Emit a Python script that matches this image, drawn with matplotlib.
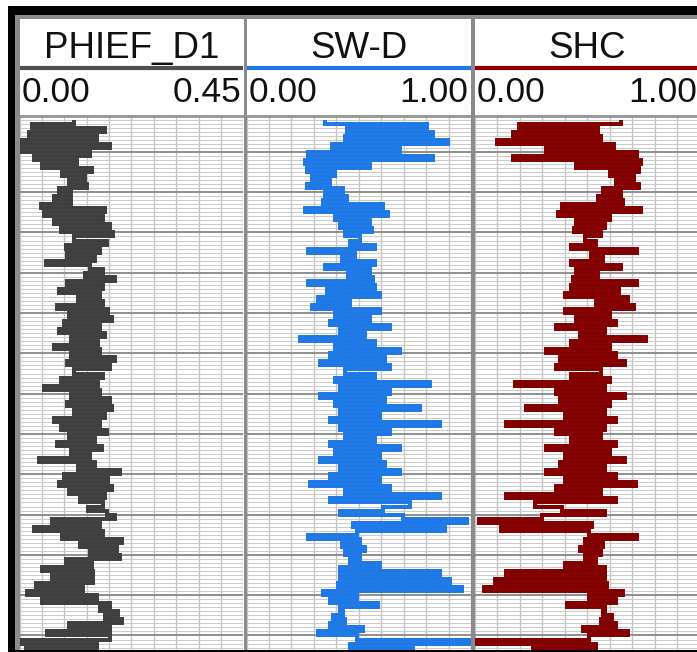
import numpy as np
import matplotlib
matplotlib.use("Agg")
import matplotlib.pyplot as plt
from matplotlib.patches import Rectangle

plt.rcParams["font.family"] = ["Liberation Sans", "DejaVu Sans"]

W, H, DPI = 697, 652, 100

# Depth samples (1 m step) and log values
depth = np.arange(1392, 1525)

phief = [
    0.110, 0.026, 0.171, 0.020, 0.155, 0.002, 0.181, 0.006, 0.141, 0.030,
    0.115, 0.046, 0.145, 0.086, 0.131, 0.100, 0.135, 0.080, 0.104, 0.070,
    0.104, 0.044, 0.171, 0.050, 0.167, 0.070, 0.181, 0.084, 0.187, 0.110,
    0.175, 0.094, 0.161, 0.096, 0.151, 0.054, 0.141, 0.167, 0.131, 0.191,
    0.096, 0.167, 0.080, 0.161, 0.117, 0.167,
    0.076, 0.177, 0.100, 0.185, 0.090, 0.161, 0.080, 0.171, 0.104, 0.157,
    0.070, 0.161, 0.104, 0.191, 0.096, 0.181, 0.110, 0.167, 0.084, 0.157,
    0.050, 0.161, 0.104, 0.181, 0.096, 0.185, 0.110, 0.171, 0.070, 0.161,
    0.084, 0.175, 0.100, 0.151, 0.076, 0.165, 0.104, 0.141, 0.040, 0.151,
    0.117, 0.201, 0.090, 0.177, 0.080, 0.185, 0.100, 0.171, 0.121, 0.167,
    0.137, 0.175, 0.191, 0.066, 0.161, 0.030, 0.167, 0.086, 0.205, 0.121,
    0.195, 0.141, 0.201, 0.094, 0.145, 0.046, 0.147, 0.066, 0.147, 0.034,
    0.127, 0.016, 0.155, 0.046, 0.181, 0.161, 0.197, 0.171, 0.205, 0.100,
    0.181, 0.056, 0.181, 0.002, 0.155, 0.014, 0.100,
]

sw_d = [
    0.351, 0.804, 0.449, 0.831, 0.440, 0.898, 0.382, 0.684, 0.276, 0.831,
    0.262, 0.551, 0.271, 0.396, 0.293, 0.373, 0.271, 0.431, 0.351, 0.449,
    0.342, 0.609, 0.262, 0.631, 0.396, 0.551, 0.418, 0.560, 0.440, 0.507,
    0.462, 0.573, 0.276, 0.484, 0.427, 0.573, 0.351, 0.551, 0.453, 0.564,
    0.276, 0.573, 0.360, 0.596, 0.320, 0.462,
    0.293, 0.596, 0.396, 0.551, 0.373, 0.640, 0.418, 0.529, 0.240, 0.573,
    0.396, 0.684, 0.373, 0.618, 0.329, 0.640, 0.440, 0.573, 0.396, 0.818,
    0.418, 0.640, 0.329, 0.618, 0.396, 0.773, 0.418, 0.596, 0.373, 0.862,
    0.418, 0.640, 0.440, 0.573, 0.373, 0.684, 0.396, 0.596, 0.329, 0.618,
    0.418, 0.684, 0.373, 0.596, 0.284, 0.640, 0.440, 0.862, 0.373, 0.729,
    0.609, 0.418, 0.698, 0.982, 0.476, 0.884, 0.493, 0.276, 0.507, 0.427,
    0.529, 0.440, 0.507, 0.462, 0.596, 0.418, 0.862, 0.418, 0.907, 0.409,
    0.960, 0.342, 0.493, 0.373, 0.587, 0.418, 0.431, 0.387, 0.440, 0.373,
    0.520, 0.320, 0.493, 1.000, 0.462, 0.742, 1.000,
]

shc = [
    0.649, 0.196, 0.551, 0.169, 0.560, 0.102, 0.618, 0.316, 0.724, 0.169,
    0.738, 0.449, 0.729, 0.604, 0.707, 0.627, 0.729, 0.569, 0.649, 0.551,
    0.658, 0.391, 0.738, 0.369, 0.604, 0.449, 0.582, 0.440, 0.560, 0.493,
    0.538, 0.427, 0.724, 0.516, 0.573, 0.427, 0.649, 0.449, 0.547, 0.436,
    0.724, 0.427, 0.640, 0.404, 0.680, 0.538,
    0.707, 0.404, 0.604, 0.449, 0.627, 0.360, 0.582, 0.471, 0.760, 0.427,
    0.604, 0.316, 0.627, 0.382, 0.671, 0.360, 0.560, 0.427, 0.604, 0.182,
    0.582, 0.360, 0.671, 0.382, 0.604, 0.227, 0.582, 0.404, 0.627, 0.138,
    0.582, 0.360, 0.560, 0.427, 0.627, 0.316, 0.604, 0.404, 0.671, 0.382,
    0.582, 0.316, 0.627, 0.404, 0.716, 0.360, 0.560, 0.138, 0.627, 0.271,
    0.391, 0.582, 0.302, 0.018, 0.524, 0.116, 0.507, 0.724, 0.493, 0.573,
    0.471, 0.560, 0.493, 0.538, 0.404, 0.582, 0.138, 0.582, 0.093, 0.591,
    0.040, 0.658, 0.507, 0.627, 0.413, 0.582, 0.569, 0.613, 0.560, 0.627,
    0.480, 0.680, 0.507, 0.000, 0.538, 0.258, 0.000,
]

track_names = ["PHIEF_D1", "SW-D", "SHC"]
track_left = ["0.00", "0.00", "0.00"]
track_right = ["0.45", "1.00", "1.00"]
track_max = [0.45, 1.0, 1.0]
curves = [phief, sw_d, shc]
curve_colors = ["#3f3f3f", "#1e78e6", "#820000"]
header_colors = ["#505050", "#1e78e6", "#8b0000"]

top_depth, base_depth = 1391.6, 1523.6

# Track extents in pixels
track_x = [(19.5, 243.5), (246.5, 471.0), (474.5, 699.5)]
HDR_TOP, HDR_BOT = 19, 116
PLOT_TOP, PLOT_BOT = 118, 650


def rect(x0, y0, x1, y1):
    return [x0 / W, 1 - y1 / H, (x1 - x0) / W, (y1 - y0) / H]


def fig_box(fig, x0, y0, x1, y1, color, z=5):
    fig.add_artist(Rectangle((x0 / W, 1 - y1 / H), (x1 - x0) / W, (y1 - y0) / H,
                             transform=fig.transFigure, facecolor=color,
                             edgecolor="none", zorder=z))


fig = plt.figure(figsize=(W / DPI, H / DPI), dpi=DPI, facecolor="white")

for k in range(3):
    x0, x1 = track_x[k]
    vmax = track_max[k]

    # header: title, coloured scale bar, scale limits
    hax = fig.add_axes(rect(x0, HDR_TOP, x1, HDR_BOT))
    hax.set_xlim(0, 1)
    hax.set_ylim(HDR_BOT, HDR_TOP)
    hax.axis("off")
    hax.text(0.5, 58, track_names[k], ha="center", va="baseline",
             fontsize=26.5, color="#111111")
    hax.axhline(68, color=header_colors[k], lw=3.0)
    pad = 2.5 / (x1 - x0)
    hax.text(pad, 102, track_left[k], ha="left", va="baseline",
             fontsize=25.5, color="#111111")
    hax.text(1 - pad, 102, track_right[k], ha="right", va="baseline",
             fontsize=25.5, color="#111111")

    # log track
    ax = fig.add_axes(rect(x0, PLOT_TOP, x1, PLOT_BOT))
    ax.set_xlim(0, vmax)
    ax.set_ylim(base_depth, top_depth)
    ax.set_xticks(np.linspace(0, vmax, 11))
    ax.set_yticks(np.arange(1400, 1524, 10))
    ax.set_yticks(np.arange(1392, 1524, 1), minor=True)
    ax.grid(which="minor", axis="y", color="#cbcbcb", lw=0.75)
    ax.grid(which="major", axis="y", color="#8e8e8e", lw=1.4)
    ax.grid(which="major", axis="x", color="#c2c2c2", lw=1.0)
    ax.tick_params(which="both", length=0, labelbottom=False, labelleft=False)
    for s in ax.spines.values():
        s.set_visible(False)
    ax.set_axisbelow(True)
    # step-style log curve: each reading held over its depth interval
    ax.plot(curves[k], depth, color=curve_colors[k], lw=2.85,
            drawstyle="steps-pre", solid_joinstyle="miter",
            solid_capstyle="butt")

# track frame lines
GRAY = "#8a8a8a"
fig_box(fig, 15, 15, 697, 19, GRAY)
fig_box(fig, 15, 115.5, 697, 118, "#9a9a9a")
fig_box(fig, 15, 15, 19.5, 652, GRAY)
fig_box(fig, 243.5, 15, 246.5, 652, GRAY)
fig_box(fig, 471.0, 15, 474.5, 652, GRAY)

# outer black border
fig_box(fig, 8, 6, 697, 15, "black", z=6)
fig_box(fig, 8, 6, 15, 652, "black", z=6)
fig_box(fig, 8, 649.5, 697, 652, "black", z=6)

fig.savefig("out.png", dpi=DPI, facecolor="white")
